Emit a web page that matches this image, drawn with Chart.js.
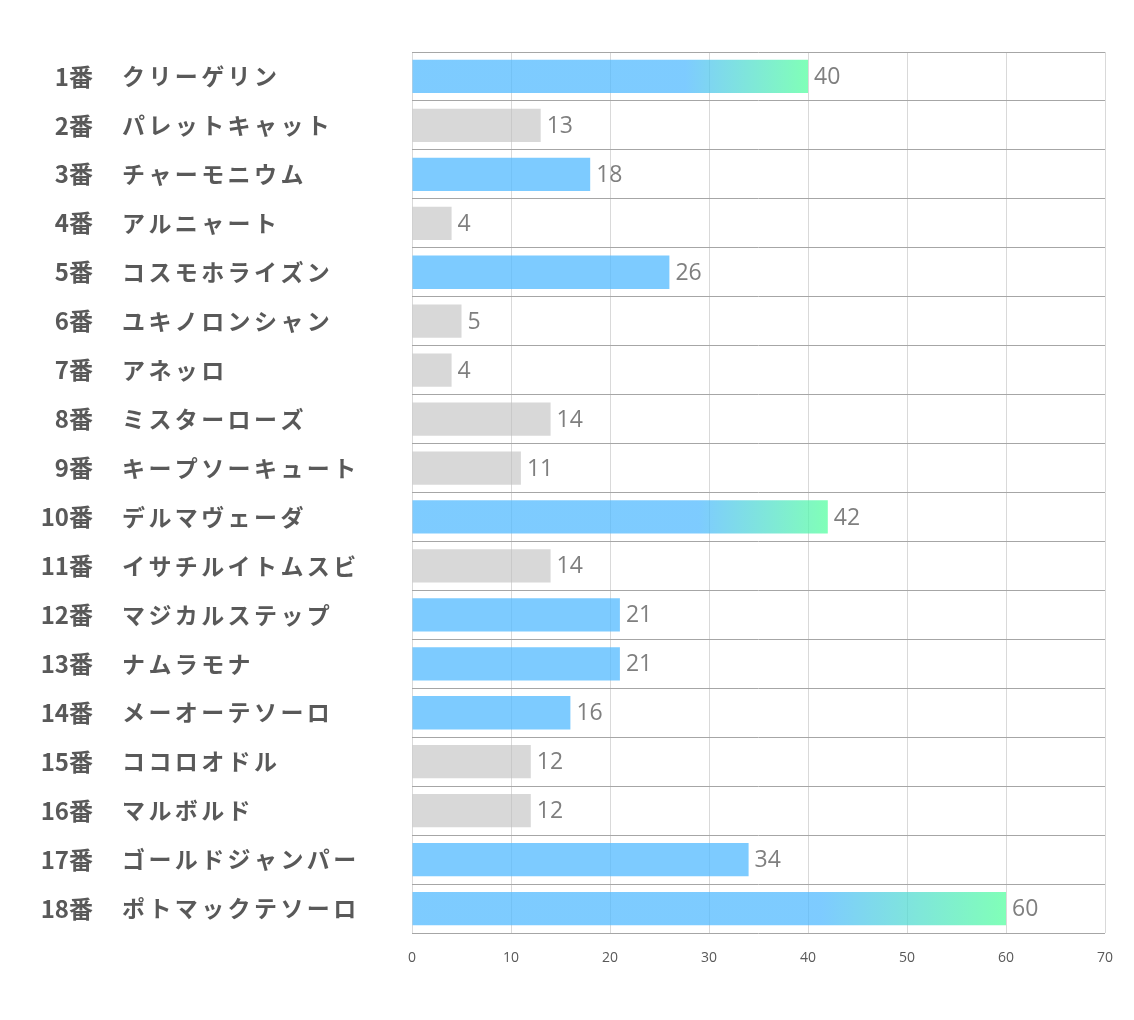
<!DOCTYPE html>
<html>
<head>
<meta charset="utf-8">
<script src="https://cdn.jsdelivr.net/npm/chart.js@4"></script>
<style>
  html, body { margin: 0; padding: 0; background: #ffffff; }
  #wrap { width: 1134px; height: 1020px; }
</style>
</head>
<body>
<div id="wrap"><canvas id="c" width="1134" height="1020"></canvas></div>
<script>
const horseNumbers = ["1番","2番","3番","4番","5番","6番","7番","8番","9番","10番","11番","12番","13番","14番","15番","16番","17番","18番"];
const horseNames = ["クリーゲリン","パレットキャット","チャーモニウム","アルニャート","コスモホライズン","ユキノロンシャン","アネッロ","ミスターローズ","キープソーキュート","デルマヴェーダ","イサチルイトムスビ","マジカルステップ","ナムラモナ","メーオーテソーロ","ココロオドル","マルボルド","ゴールドジャンパー","ポトマックテソーロ"];
const values = [40,13,18,4,26,5,4,14,11,42,14,21,21,16,12,12,34,60];
const xTicks = [0,10,20,30,40,50,60,70];

const sorted = [...values].sort((a,b) => b - a);
const topThreshold = sorted[2];      // top 3 get gradient
const blueThreshold = sorted[8];     // top half blue

const BLUE = 'rgba(82,186,255,0.75)';
const GREEN = 'rgba(86,255,160,0.75)';
const GRAY = 'rgba(190,190,190,0.6)';

function barColor(ctx) {
  const v = ctx.raw;
  if (v === undefined) return BLUE;
  if (v < blueThreshold) return GRAY;
  if (v < topThreshold) return BLUE;
  const chart = ctx.chart;
  const xs = chart.scales && chart.scales.x;
  if (!xs || !chart.chartArea) return BLUE;
  const x0 = xs.getPixelForValue(0);
  const x1 = xs.getPixelForValue(v);
  if (!isFinite(x0) || !isFinite(x1) || x1 <= x0) return BLUE;
  const g = chart.ctx.createLinearGradient(x0, 0, x1, 0);
  g.addColorStop(0, BLUE);
  g.addColorStop(0.69, BLUE);
  g.addColorStop(1, GREEN);
  return g;
}

function withLetterSpacing(spacing) {
  return function(scale) {
    if (scale._lsWrapped) return;
    const orig = scale.drawLabels;
    scale.drawLabels = function(area) {
      const c = this.ctx;
      const prev = c.letterSpacing;
      c.letterSpacing = spacing;
      orig.call(this, area);
      c.letterSpacing = prev || '0px';
    };
    scale._lsWrapped = true;
  };
}

const valueLabels = {
  id: 'valueLabels',
  afterDatasetsDraw(chart) {
    const ctx = chart.ctx;
    const meta = chart.getDatasetMeta(0);
    ctx.save();
    ctx.font = '23px "Open Sans", "Noto Sans", sans-serif';
    ctx.fillStyle = '#7f7f7f';
    ctx.textAlign = 'left';
    ctx.textBaseline = 'middle';
    meta.data.forEach((bar, i) => {
      ctx.fillText(String(values[i]), bar.x + 6, bar.y + 1);
    });
    ctx.restore();
  }
};

new Chart(document.getElementById('c'), {
  type: 'bar',
  data: {
    labels: horseNames,
    datasets: [{
      data: values,
      backgroundColor: barColor,
      borderWidth: 0,
      barPercentage: 1,
      categoryPercentage: 0.68,
      yAxisID: 'y'
    }]
  },
  options: {
    indexAxis: 'y',
    responsive: false,
    animation: false,
    events: [],
    layout: { padding: { top: 52, right: 29, left: 0, bottom: 0 } },
    plugins: { legend: { display: false }, tooltip: { enabled: false } },
    scales: {
      x: {
        type: 'linear',
        min: 0,
        max: 70,
        afterBuildTicks(scale) { scale.ticks = xTicks.map(v => ({ value: v })); },
        afterFit(scale) { scale.height = 87; },
        grid: { color: '#d9d9d9', lineWidth: 1, drawTicks: false },
        border: { display: false },
        ticks: {
          padding: 17,
          color: '#595959',
          font: { family: '"Open Sans", "Noto Sans", sans-serif', size: 14 }
        }
      },
      y: {
        type: 'category',
        position: 'left',
        weight: 0,
        offset: true,
        afterFit(scale) { scale.width = 290; withLetterSpacing('3.4px')(scale); },
        grid: { offset: true, color: '#a6a6a6', lineWidth: 1, drawTicks: false },
        border: { display: false },
        ticks: {
          crossAlign: 'far',
          padding: 0,
          color: '#595959',
          font: { family: '"Noto Sans CJK JP", sans-serif', size: 23, weight: 'bold' }
        }
      },
      yNum: {
        type: 'category',
        position: 'left',
        weight: 1,
        offset: true,
        labels: horseNumbers,
        afterFit(scale) { scale.width = 122; },
        grid: { display: false, drawTicks: false },
        border: { display: false },
        ticks: {
          crossAlign: 'near',
          padding: 29,
          color: '#595959',
          font: { family: '"Noto Sans CJK JP", sans-serif', size: 24, weight: 'bold' }
        }
      }
    }
  },
  plugins: [valueLabels]
});
</script>
</body>
</html>
